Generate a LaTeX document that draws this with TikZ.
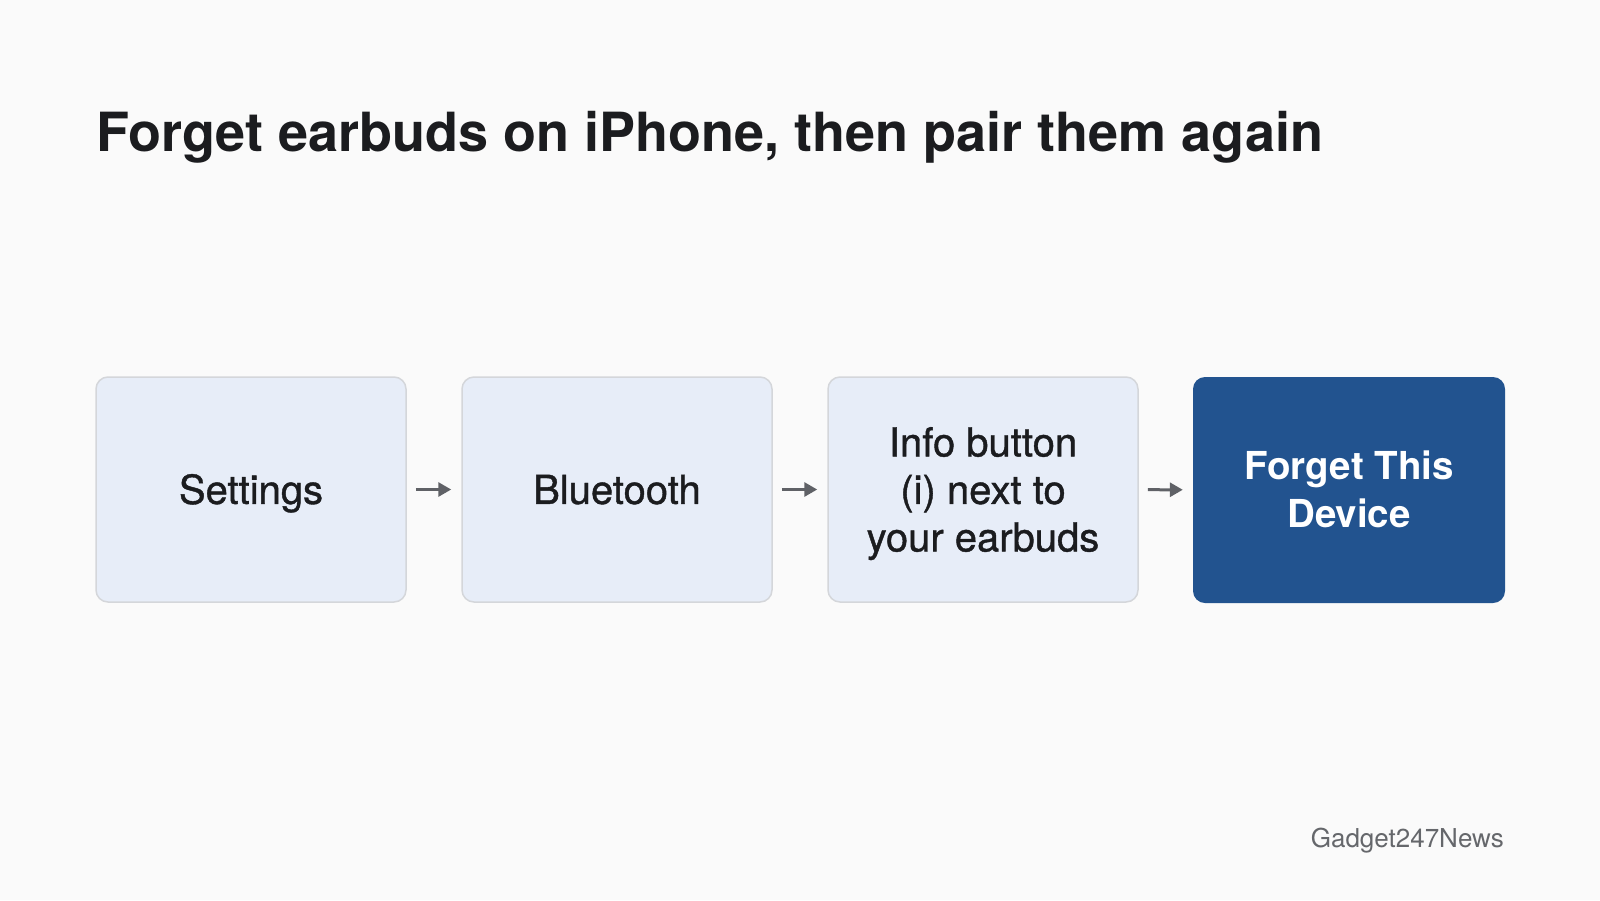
\documentclass[tikz,border=0pt]{standalone}
\usepackage{fontspec}
\setmainfont{TeX Gyre Heros}
\newfontfamily\medfont[FakeBold=1.0]{TeX Gyre Heros}
\usetikzlibrary{arrows.meta}
\definecolor{bg}{HTML}{FAFAFA}
\definecolor{boxfill}{HTML}{E7EDF8}
\definecolor{boxline}{HTML}{D4D6DA}
\definecolor{dark}{HTML}{22538F}
\definecolor{ink}{HTML}{1B1C1F}
\definecolor{arr}{HTML}{5F6166}
\definecolor{foot}{HTML}{65676B}
\newcommand\tstrut{\rule{0pt}{0.97em}}
\newcommand\bstrut{\rule[-0.25em]{0pt}{0.25em}}
\tikzset{
  x=1pt, y=-1pt,
  stepbox/.style={rectangle, rounded corners=12pt, minimum width=310pt, minimum height=225pt,
    align=center, font=\fontsize{40}{47.5}\selectfont\medfont, text=ink, inner sep=0pt},
  lightbox/.style={stepbox, fill=boxfill, draw=boxline, line width=1.5pt},
  darkbox/.style={stepbox, minimum width=312pt, minimum height=226pt, fill=dark, text=white, font=\fontsize{38.5}{48}\selectfont\bfseries},
  flow/.style={draw=arr, line width=3pt, -{Triangle[length=13pt,width=14pt]}, shorten <=9pt, shorten >=10pt}
}
\begin{document}
\begin{tikzpicture}
\fill[bg] (0,0) rectangle (1600,900);
\useasboundingbox (0,0) rectangle (1600,900);
\node[anchor=base west, inner sep=0pt, text=ink, font=\fontsize{54}{60}\selectfont\bfseries] (title) at (96,151) {Forget earbuds on iPhone, then pair them again};
\node[lightbox] (s1) at (251,489.5) {\tstrut Settings\bstrut};
\node[lightbox] (s2) at (617,489.5) {\tstrut Bluetooth\bstrut};
\node[lightbox] (s3) at (983,489.5) {\tstrut Info button\\(i) next to\\your earbuds\bstrut};
\node[darkbox] (s4) at (1349,490) {\tstrut Forget This\\Device\bstrut};
\draw[flow] (s1) -- (s2);
\draw[flow] (s2) -- (s3);
\draw[flow] (s3) -- (s4);
\node[anchor=base east, inner sep=0pt, text=foot, font=\fontsize{26}{30}\selectfont] (credit) at (1504,847) {Gadget247News};
\end{tikzpicture}
\end{document}
